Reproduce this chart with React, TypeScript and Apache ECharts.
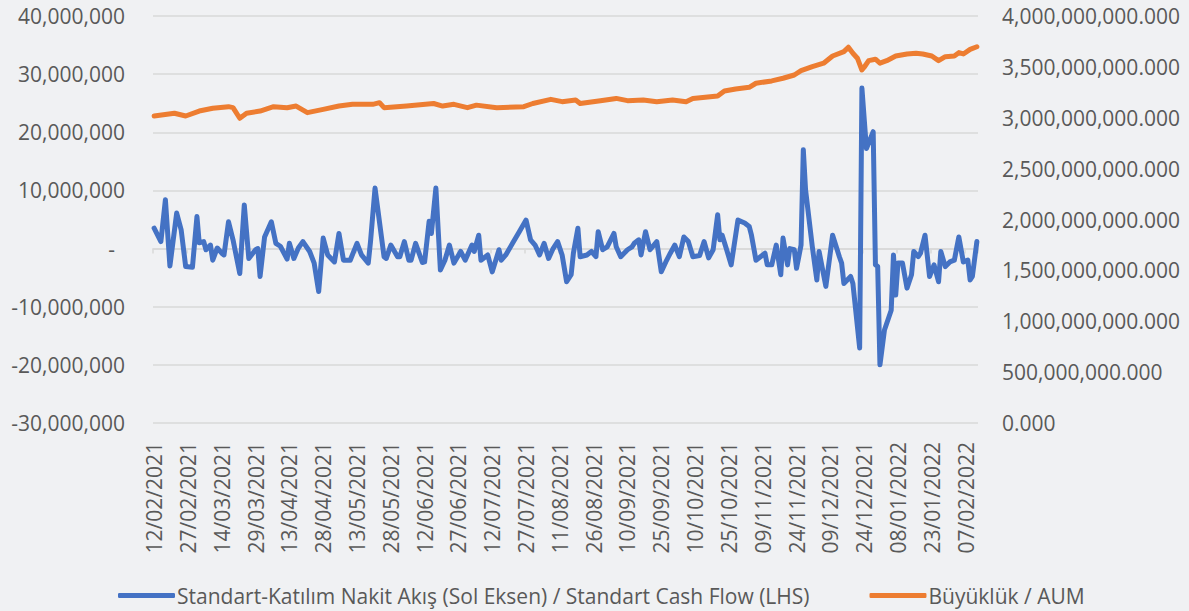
import React, { useEffect, useRef } from "react";
import * as echarts from "echarts";

// ---- DATA ----
const startDay = { year: 2021, month: 2, day: 12 };
const dayCount = 366;

const cashFlowName = "Standart-Katılım Nakit Akış (Sol Eksen) / Standart Cash Flow (LHS)";
const aumName = "Büyüklük / AUM";

const cashFlowDates = [
  "12/02/2021", "15/02/2021", "17/02/2021", "19/02/2021", "22/02/2021", "24/02/2021", "26/02/2021",
  "01/03/2021", "03/03/2021", "04/03/2021", "06/03/2021", "07/03/2021", "09/03/2021", "10/03/2021",
  "12/03/2021", "14/03/2021", "15/03/2021", "17/03/2021", "19/03/2021", "22/03/2021", "24/03/2021",
  "26/03/2021", "29/03/2021", "30/03/2021", "31/03/2021", "02/04/2021", "05/04/2021", "07/04/2021",
  "09/04/2021", "12/04/2021", "13/04/2021", "15/04/2021", "17/04/2021", "19/04/2021", "22/04/2021",
  "24/04/2021", "26/04/2021", "28/04/2021", "30/04/2021", "03/05/2021", "05/05/2021", "07/05/2021",
  "10/05/2021", "13/05/2021", "15/05/2021", "18/05/2021", "19/05/2021", "21/05/2021", "25/05/2021",
  "26/05/2021", "28/05/2021", "31/05/2021", "01/06/2021", "03/06/2021", "05/06/2021", "06/06/2021",
  "08/06/2021", "11/06/2021", "12/06/2021", "14/06/2021", "15/06/2021", "17/06/2021", "19/06/2021",
  "21/06/2021", "23/06/2021", "25/06/2021", "28/06/2021", "30/06/2021", "03/07/2021", "04/07/2021",
  "06/07/2021", "07/07/2021", "10/07/2021", "12/07/2021", "15/07/2021", "16/07/2021", "18/07/2021",
  "21/07/2021", "24/07/2021", "27/07/2021", "29/07/2021", "31/07/2021", "02/08/2021", "04/08/2021",
  "06/08/2021", "08/08/2021", "10/08/2021", "12/08/2021", "14/08/2021", "16/08/2021", "17/08/2021",
  "19/08/2021", "20/08/2021", "23/08/2021", "25/08/2021", "27/08/2021", "28/08/2021", "30/08/2021",
  "01/09/2021", "04/09/2021", "05/09/2021", "07/09/2021", "10/09/2021", "12/09/2021", "13/09/2021",
  "15/09/2021", "16/09/2021", "18/09/2021", "20/09/2021", "23/09/2021", "25/09/2021", "27/09/2021",
  "29/09/2021", "01/10/2021", "03/10/2021", "05/10/2021", "07/10/2021", "09/10/2021", "12/10/2021",
  "14/10/2021", "16/10/2021", "18/10/2021", "20/10/2021", "21/10/2021", "22/10/2021", "24/10/2021",
  "26/10/2021", "29/10/2021", "01/11/2021", "03/11/2021", "04/11/2021", "06/11/2021", "08/11/2021",
  "10/11/2021", "11/11/2021", "13/11/2021", "15/11/2021", "17/11/2021", "18/11/2021", "20/11/2021",
  "21/11/2021", "23/11/2021", "24/11/2021", "26/11/2021", "27/11/2021", "28/11/2021", "01/12/2021",
  "03/12/2021", "04/12/2021", "07/12/2021", "10/12/2021", "13/12/2021", "14/12/2021", "15/12/2021",
  "18/12/2021", "19/12/2021", "22/12/2021", "23/12/2021", "25/12/2021", "28/12/2021", "29/12/2021",
  "30/12/2021", "31/12/2021", "02/01/2022", "05/01/2022", "06/01/2022", "07/01/2022", "08/01/2022",
  "10/01/2022", "12/01/2022", "14/01/2022", "15/01/2022", "17/01/2022", "18/01/2022", "20/01/2022",
  "22/01/2022", "24/01/2022", "26/01/2022", "27/01/2022", "29/01/2022", "31/01/2022", "02/02/2022",
  "04/02/2022", "06/02/2022", "08/02/2022", "09/02/2022", "10/02/2022", "12/02/2022",
];

const cashFlowValues = [
  3.5e6, 1.2e6, 8.4e6, -3.0e6, 6.1e6, 3.2e6, -3.1e6,
  -3.2e6, 5.5e6, 1.0e6, 1.2e6, -0.2e6, 0.6e6, -2.0e6,
  0.1e6, -0.8e6, -1.1e6, 4.6e6, 1.5e6, -4.3e6, 7.5e6,
  -1.7e6, -0.2e6, 0.0, -4.8e6, 2.0e6, 4.6e6, 0.9e6,
  0.4e6, -1.8e6, 0.9e6, -1.7e6, 0.1e6, 1.2e6, -0.5e6,
  -2.5e6, -7.4e6, 1.8e6, -1.1e6, -2.3e6, 2.6e6, -2.0e6,
  -2.0e6, 0.9e6, -1.1e6, -2.5e6, 1.2e6, 10.4e6, -1.4e6,
  -1.7e6, 0.6e6, -1.4e6, -1.4e6, 1.2e6, -2.0e6, -2.0e6,
  0.9e6, -2.4e6, -2.3e6, 4.7e6, 2.6e6, 10.4e6, -3.7e6,
  -2.0e6, 0.6e6, -2.5e6, -0.5e6, -2.0e6, 0.6e6, -0.5e6,
  2.3e6, -2.0e6, -1.1e6, -4.0e6, -0.2e6, -2.0e6, -1.1e6,
  0.9e6, 2.9e6, 4.9e6, 1.5e6, 0.6e6, -1.1e6, 0.9e6,
  -1.7e6, 0.0, 1.2e6, -1.1e6, -5.7e6, -4.5e6, -0.8e6,
  3.5e6, -1.4e6, -1.1e6, -0.5e6, -1.4e6, 2.9e6, -0.2e6,
  0.3e6, 2.6e6, 0.3e6, -1.4e6, -0.2e6, 0.3e6, 0.9e6,
  1.5e6, -1.1e6, 2.9e6, -0.2e6, 1.2e6, -4.0e6, -2.3e6,
  -0.8e6, 0.6e6, -1.4e6, 2.0e6, 1.2e6, -1.4e6, -1.2e6,
  1.2e6, -1.6e6, -0.2e6, 5.8e6, 1.5e6, 2.3e6, -0.2e6,
  -2.8e6, 4.9e6, 4.4e6, 3.8e6, 2.3e6, -2.0e6, -1.4e6,
  -0.8e6, -2.8e6, -2.8e6, 0.6e6, -4.5e6, 1.8e6, -2.8e6,
  0.0, -0.2e6, -3.4e6, 0.6e6, 17.0e6, 10.1e6, 0.3e6,
  -5.4e6, -0.5e6, -6.5e6, 2.3e6, -1.4e6, -2.5e6, -6.0e6,
  -4.8e6, -6.0e6, -17.1e6, 27.6e6, 17.2e6, 20.1e6, -2.8e6,
  -3.1e6, -20.0e6, -14.0e6, -10.6e6, -1.1e6, -8.0e6, -2.5e6,
  -2.5e6, -6.8e6, -4.5e6, -0.5e6, -1.4e6, -0.8e6, 2.3e6,
  -4.8e6, -2.8e6, -5.7e6, -0.5e6, -3.1e6, -2.3e6, -2.0e6,
  2.0e6, -2.3e6, -2.0e6, -5.4e6, -4.8e6, 1.2e6,
];

const aumDates = [
  "12/02/2021", "21/02/2021", "26/02/2021", "04/03/2021", "10/03/2021", "17/03/2021", "19/03/2021",
  "22/03/2021", "25/03/2021", "31/03/2021", "06/04/2021", "12/04/2021", "16/04/2021", "21/04/2021",
  "28/04/2021", "05/05/2021", "11/05/2021", "20/05/2021", "23/05/2021", "25/05/2021", "04/06/2021",
  "16/06/2021", "20/06/2021", "25/06/2021", "01/07/2021", "05/07/2021", "14/07/2021", "26/07/2021",
  "30/07/2021", "07/08/2021", "12/08/2021", "18/08/2021", "20/08/2021", "29/08/2021", "05/09/2021",
  "10/09/2021", "17/09/2021", "23/09/2021", "30/09/2021", "06/10/2021", "09/10/2021", "20/10/2021",
  "23/10/2021", "28/10/2021", "03/11/2021", "06/11/2021", "13/11/2021", "18/11/2021", "23/11/2021",
  "26/11/2021", "01/12/2021", "06/12/2021", "10/12/2021", "15/12/2021", "17/12/2021", "19/12/2021",
  "21/12/2021", "23/12/2021", "24/12/2021", "26/12/2021", "29/12/2021", "31/12/2021", "03/01/2022",
  "07/01/2022", "12/01/2022", "16/01/2022", "19/01/2022", "23/01/2022", "26/01/2022", "29/01/2022",
  "02/02/2022", "04/02/2022", "06/02/2022", "09/02/2022", "12/02/2022",
];

const aumValues = [
  3.017e9, 3.044e9, 3.017e9, 3.066e9, 3.093e9, 3.109e9, 3.1e9,
  2.995e9, 3.044e9, 3.066e9, 3.109e9, 3.099e9, 3.115e9, 3.05e9,
  3.082e9, 3.115e9, 3.132e9, 3.132e9, 3.148e9, 3.099e9, 3.115e9,
  3.14e9, 3.115e9, 3.132e9, 3.099e9, 3.124e9, 3.099e9, 3.109e9,
  3.14e9, 3.181e9, 3.158e9, 3.175e9, 3.14e9, 3.168e9, 3.19e9,
  3.168e9, 3.175e9, 3.158e9, 3.175e9, 3.158e9, 3.19e9, 3.213e9,
  3.263e9, 3.283e9, 3.299e9, 3.339e9, 3.362e9, 3.388e9, 3.42e9,
  3.463e9, 3.503e9, 3.536e9, 3.607e9, 3.65e9, 3.693e9, 3.634e9,
  3.585e9, 3.469e9, 3.496e9, 3.561e9, 3.575e9, 3.536e9, 3.561e9,
  3.607e9, 3.627e9, 3.634e9, 3.627e9, 3.607e9, 3.561e9, 3.6e9,
  3.607e9, 3.64e9, 3.627e9, 3.672e9, 3.698e9,
];

const leftAxis = { min: -30000000, max: 40000000, interval: 10000000 };
const rightAxis = { min: 0, max: 4000000000, interval: 500000000 };

// ---- helpers ----
function pad(n: number) {
  return n < 10 ? "0" + n : String(n);
}
function buildCategories(): string[] {
  const out: string[] = [];
  for (let i = 0; i < dayCount; i++) {
    const d = new Date(Date.UTC(startDay.year, startDay.month - 1, startDay.day + i));
    out.push(`${pad(d.getUTCDate())}/${pad(d.getUTCMonth() + 1)}/${d.getUTCFullYear()}`);
  }
  return out;
}

const FONT = "'Open Sans', 'Noto Sans', sans-serif";
const TXT = "#595959";
const GRID = "#d9d9d9";
const BLUE = "#4472c4";
const ORANGE = "#ed7d31";

export default function App() {
  const ref = useRef<HTMLDivElement>(null);
  useEffect(() => {
    if (!ref.current) return;
    const chart = echarts.init(ref.current, null, { renderer: "svg" });
    const categories = buildCategories();
    const cashData = cashFlowDates.map((d, i) => [d, cashFlowValues[i]]);
    const aumData = aumDates.map((d, i) => [d, aumValues[i]]);

    chart.setOption({
      animation: false,
      backgroundColor: "#f0f1f3",
      textStyle: { fontFamily: FONT },
      grid: { left: 153, right: 211, top: 16, bottom: 188, containLabel: false },
      legend: {
        left: 113,
        top: 580,
        icon: "roundRect",
        itemWidth: 57,
        itemHeight: 5,
        itemGap: 60,
        textStyle: { fontFamily: FONT, fontSize: 21, color: TXT, padding: [0, 0, 0, -3] },
        data: [cashFlowName, aumName],
      },
      xAxis: [
        {
          type: "category",
          data: categories,
          position: "bottom",
          boundaryGap: true,
          axisLine: { show: false, onZero: false },
          axisTick: { show: false },
          axisLabel: {
            interval: 14,
            rotate: 90,
            margin: 19,
            fontFamily: FONT,
            fontSize: 21,
            color: TXT,
          },
          splitLine: { show: false },
        },
        {
          type: "category",
          data: categories,
          position: "top",
          boundaryGap: true,
          axisLine: { show: true, onZero: true, onZeroAxisIndex: 0, lineStyle: { color: GRID, width: 1.5 } },
          axisTick: { show: true, inside: true, interval: 14, length: 5, lineStyle: { color: GRID, width: 1.5 } },
          axisLabel: { show: false },
          splitLine: { show: false },
        },
      ],
      yAxis: [
        {
          type: "value",
          position: "left",
          min: leftAxis.min,
          max: leftAxis.max,
          interval: leftAxis.interval,
          axisLine: { show: false },
          axisTick: { show: false },
          splitLine: { show: true, lineStyle: { color: GRID, width: 1.5 } },
          axisLabel: {
            margin: 28,
            fontFamily: FONT,
            fontSize: 21,
            color: TXT,
            formatter: (v: number) => (v === 0 ? "{z|-}" : v.toLocaleString("en-US")),
            rich: { z: { fontFamily: FONT, fontSize: 21, color: TXT, padding: [0, 10, 0, 0] } },
          },
        },
        {
          type: "value",
          position: "right",
          min: rightAxis.min,
          max: rightAxis.max,
          interval: rightAxis.interval,
          axisLine: { show: false },
          axisTick: { show: false },
          splitLine: { show: false },
          axisLabel: {
            margin: 24,
            fontFamily: FONT,
            fontSize: 21,
            color: TXT,
            formatter: (v: number) =>
              v.toLocaleString("en-US", { minimumFractionDigits: 3, maximumFractionDigits: 3 }),
          },
        },
      ],
      series: [
        {
          name: cashFlowName,
          type: "line",
          xAxisIndex: 0,
          yAxisIndex: 0,
          data: cashData,
          symbol: "none",
          connectNulls: true,
          lineStyle: { color: BLUE, width: 5, join: "round", cap: "round" },
          itemStyle: { color: BLUE },
          z: 3,
        },
        {
          name: aumName,
          type: "line",
          xAxisIndex: 0,
          yAxisIndex: 1,
          data: aumData,
          symbol: "none",
          connectNulls: true,
          lineStyle: { color: ORANGE, width: 5, join: "round", cap: "round" },
          itemStyle: { color: ORANGE },
          z: 2,
        },
      ],
    });
    return () => chart.dispose();
  }, []);

  return (
    <div
      ref={ref}
      style={{ position: "fixed", left: 0, top: 0, width: 1189, height: 611 }}
    />
  );
}
